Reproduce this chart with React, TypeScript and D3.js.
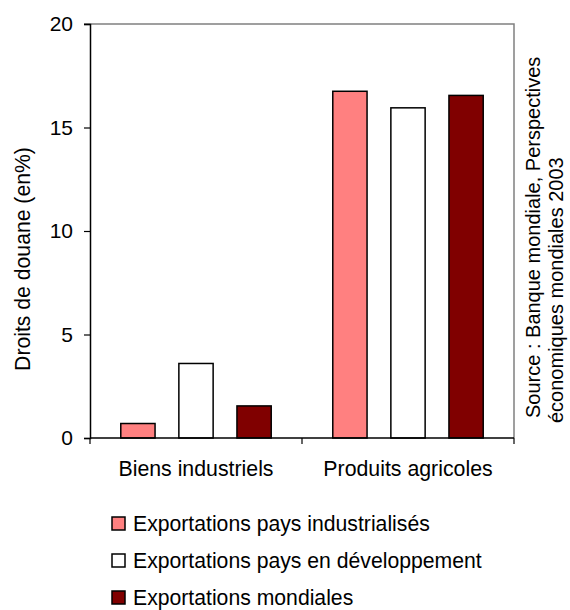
import React, { useEffect, useRef } from "react";
import * as d3 from "d3";

const categories = ["Biens industriels", "Produits agricoles"];
const seriesNames = [
  "Exportations pays industrialisés",
  "Exportations pays en développement",
  "Exportations mondiales",
];
const industrialExports = [0.7, 16.75];
const developingExports = [3.6, 15.95];
const worldExports = [1.55, 16.55];
const yTicks = [0, 5, 10, 15, 20];
const sourceLines = [
  "Source : Banque mondiale, Perspectives",
  "économiques mondiales 2003",
];

const colors = ["#ff8080", "#ffffff", "#800000"];
const font = "'Liberation Sans', Arial, sans-serif";

const App = () => {
  const svgRef = useRef(null);

  useEffect(() => {
    const svg = d3.select(svgRef.current);
    svg.selectAll("*").remove();

    const left = 90;
    const right = 514;
    const top = 24;
    const bottom = 438;

    const series = [industrialExports, developingExports, worldExports];

    const x0 = d3.scaleBand().domain(categories).range([left, right]);
    const x1 = d3
      .scaleBand()
      .domain(d3.range(series.length).map(String))
      .range([0, x0.bandwidth()])
      .paddingInner(0.41)
      .paddingOuter(0.53);
    const y = d3.scaleLinear().domain([0, 20]).range([bottom, top]);

    // top and right frame (grey)
    svg
      .append("path")
      .attr("d", `M${left - 6},${top}H${right}V${bottom}`)
      .attr("fill", "none")
      .attr("stroke", "#808080")
      .attr("stroke-width", 1.5);

    // bars
    categories.forEach((cat, ci) => {
      series.forEach((vals, si) => {
        svg
          .append("rect")
          .attr("x", x0(cat) + x1(String(si)))
          .attr("y", y(vals[ci]))
          .attr("width", x1.bandwidth())
          .attr("height", y(0) - y(vals[ci]))
          .attr("fill", colors[si])
          .attr("stroke", "#000")
          .attr("stroke-width", 1.5);
      });
    });

    // y axis
    const yAxis = svg
      .append("g")
      .attr("transform", `translate(${left},0)`)
      .call(d3.axisLeft(y).tickValues(yTicks).tickSize(6).tickPadding(11));
    yAxis.select(".domain").attr("stroke", "#000").attr("stroke-width", 1.5);
    yAxis.selectAll(".tick line").attr("stroke", "#000").attr("stroke-width", 1.2);
    yAxis
      .selectAll("text")
      .attr("font-family", font)
      .attr("font-size", 21)
      .attr("fill", "#000");

    // x axis
    const xAxis = svg.append("g").attr("transform", `translate(0,${bottom})`);
    xAxis
      .append("line")
      .attr("x1", left)
      .attr("x2", right)
      .attr("stroke", "#000")
      .attr("stroke-width", 1.5);
    const sepTicks = [left, ...categories.map((c) => x0(c) + x0.bandwidth())];
    xAxis
      .selectAll("line.sep")
      .data(sepTicks)
      .enter()
      .append("line")
      .attr("class", "sep")
      .attr("x1", (d) => d)
      .attr("x2", (d) => d)
      .attr("y1", 0)
      .attr("y2", 6)
      .attr("stroke", "#000")
      .attr("stroke-width", 1.2);
    xAxis
      .selectAll("text")
      .data(categories)
      .enter()
      .append("text")
      .attr("x", (d) => x0(d) + x0.bandwidth() / 2)
      .attr("y", 38)
      .attr("text-anchor", "middle")
      .attr("font-family", font)
      .attr("font-size", 21.3)
      .text((d) => d);

    // y title
    svg
      .append("text")
      .attr("transform", "translate(30,259) rotate(-90)")
      .attr("text-anchor", "middle")
      .attr("font-family", font)
      .attr("font-size", 21.2)
      .text("Droits de douane (en%)");

    // source note
    svg
      .selectAll("text.source")
      .data(sourceLines)
      .enter()
      .append("text")
      .attr("class", "source")
      .attr("transform", (d, i) => `translate(${540 + i * 23},${418 + i * 5}) rotate(-90)`)
      .attr("font-family", font)
      .attr("font-size", 20)
      .text((d) => d);

    // legend
    const legend = svg
      .selectAll("g.legend")
      .data(seriesNames)
      .enter()
      .append("g")
      .attr("class", "legend")
      .attr("transform", (d, i) => `translate(112,${531 + i * 37})`);
    legend
      .append("rect")
      .attr("x", 0)
      .attr("y", -14)
      .attr("width", 13)
      .attr("height", 13)
      .attr("fill", (d, i) => colors[i])
      .attr("stroke", "#000")
      .attr("stroke-width", 1.5);
    legend
      .append("text")
      .attr("x", 21)
      .attr("y", 0)
      .attr("font-family", font)
      .attr("font-size", 21.2)
      .text((d) => d);
  }, []);

  return (
    <svg
      ref={svgRef}
      width={570}
      height={610}
      style={{ position: "absolute", left: 0, top: 0, background: "#fff" }}
    />
  );
};

export default App;
